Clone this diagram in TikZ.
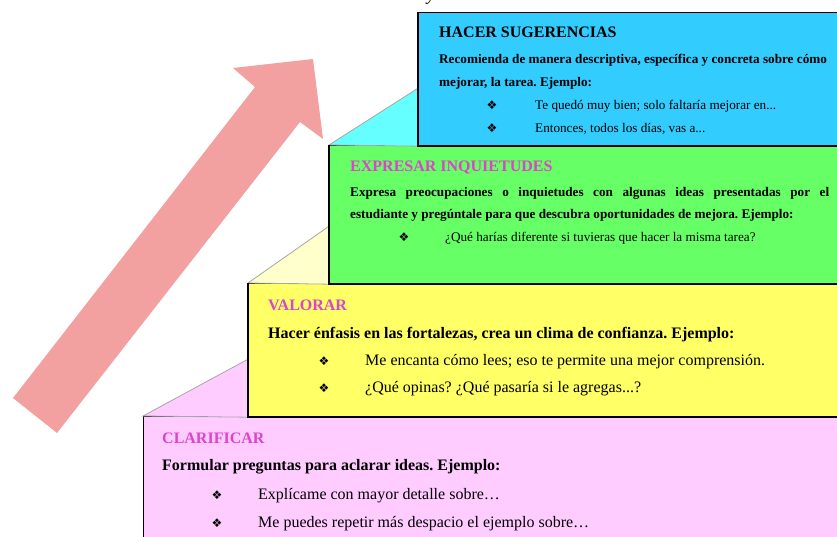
\documentclass[tikz,border=0pt]{standalone}
\usepackage{fontspec}
\setmainfont{Liberation Serif}
\newfontfamily\simbolo{DejaVu Sans}
\frenchspacing
\definecolor{azul}{HTML}{33CCFF}
\definecolor{celeste}{HTML}{66FFFF}
\definecolor{verde}{HTML}{66FF66}
\definecolor{crema}{HTML}{FFFFCC}
\definecolor{amarillo}{HTML}{FFFF66}
\definecolor{rosa}{HTML}{FFCCFF}
\definecolor{fucsia}{HTML}{DD44CC}
\definecolor{salmon}{HTML}{F2A0A0}

\begin{document}
\begin{tikzpicture}[x=1pt,y=-1pt,
  caja/.style={draw=black,line width=1.2pt,anchor=north west,inner sep=0,minimum width=440},
  sombra/.style={draw=black!35,line width=0.8pt},
  titulo/.style={anchor=base west,inner sep=0,text=fucsia,font=\bfseries\fontsize{16}{18}\selectfont},
  cuerpo/.style={anchor=base west,inner sep=0,font=\bfseries\fontsize{13.2}{15}\selectfont},
  item/.style={anchor=base west,inner sep=0,font=\fontsize{13.2}{15}\selectfont},
  vineta/.style={anchor=base,inner sep=0,font=\simbolo\fontsize{12}{12}\selectfont},
  grande/.style={font=\bfseries\fontsize{16}{18}\selectfont},
  grandeit/.style={font=\fontsize{16}{18}\selectfont}]
\useasboundingbox (0,0) rectangle (837,537);
\clip (0,0) rectangle (837,537);

% flecha
\fill[salmon] (13,398) -- (255,87) -- (233,68) -- (313,59) -- (323,139) -- (300,122) -- (57,433) -- cycle;
\node[anchor=base,inner sep=0,font=\itshape\fontsize{18}{18}\selectfont] (arriba) at (431,1) {y};

% escalones
\node[caja,fill=rosa,minimum width=700,minimum height=140] (cla) at (143,416) {};
\node[caja,fill=amarillo,minimum width=600,minimum height=133] (val) at (248,283) {};
\node[caja,fill=verde,minimum width=520,minimum height=138] (inq) at (329,145) {};
\node[caja,fill=azul,minimum width=430,minimum height=133] (sug) at (418,12) {};
\filldraw[sombra,fill=rosa] (cla.north west) -- ([yshift=58pt]val.south west) -- (val.south west) -- cycle;
\filldraw[sombra,fill=crema] (val.north west) -- ([yshift=58pt]inq.south west) -- (inq.south west) -- cycle;
\filldraw[sombra,fill=celeste] (inq.north west) -- ([yshift=58pt]sug.south west) -- (sug.south west) -- cycle;
\draw[line width=1.2pt] (val.north west) |- (val.south east);
\draw[line width=1.2pt] (inq.north west) |- (inq.south east);
\draw[line width=1.2pt] (sug.north west) |- (sug.south east);

% HACER SUGERENCIAS
\node[titulo,text=black] (t4) at (439,38) {HACER SUGERENCIAS};
\node[cuerpo] (c4a) at (439,64) {Recomienda de manera descriptiva, específica y concreta sobre cómo};
\node[cuerpo] (c4b) at (439,87) {mejorar, la tarea. Ejemplo:};
\node[vineta] (v4a) at (492,110) {❖};
\node[item] (i4a) at (535,110) {Te quedó muy bien; solo faltaría mejorar en...};
\node[vineta] (v4b) at (492,133) {❖};
\node[item] (i4b) at (535,133) {Entonces, todos los días, vas a...};

% EXPRESAR INQUIETUDES
\node[titulo] (t3) at (350,172) {EXPRESAR INQUIETUDES};
\node[cuerpo] (c3a) at (350,197) {\makebox[479pt][s]{Expresa preocupaciones o inquietudes con algunas ideas presentadas por el}};
\node[cuerpo] (c3b) at (350,219) {estudiante y pregúntale para que descubra oportunidades de mejora. Ejemplo:};
\node[vineta] (v3a) at (404,242) {❖};
\node[item] (i3a) at (445,242) {¿Qué harías diferente si tuvieras que hacer la misma tarea?};

% VALORAR
\node[titulo] (t2) at (268,310) {VALORAR};
\node[cuerpo,grande] (c2a) at (268,338) {Hacer énfasis en las fortalezas, crea un clima de confianza. Ejemplo:};
\node[vineta] (v2a) at (324,365) {❖};
\node[item,grandeit] (i2a) at (365,365) {Me encanta cómo lees; eso te permite una mejor comprensión.};
\node[vineta] (v2b) at (324,392) {❖};
\node[item,grandeit] (i2b) at (365,392) {¿Qué opinas? ¿Qué pasaría si le agregas...?};

% CLARIFICAR
\node[titulo] (t1) at (162,443) {CLARIFICAR};
\node[cuerpo,grande] (c1a) at (162,470) {Formular preguntas para aclarar ideas. Ejemplo:};
\node[vineta] (v1a) at (217,499) {❖};
\node[item,grandeit] (i1a) at (258,499) {Explícame con mayor detalle sobre…};
\node[vineta] (v1b) at (217,527) {❖};
\node[item,grandeit] (i1b) at (258,527) {Me puedes repetir más despacio el ejemplo sobre…};
\end{tikzpicture}
\end{document}
